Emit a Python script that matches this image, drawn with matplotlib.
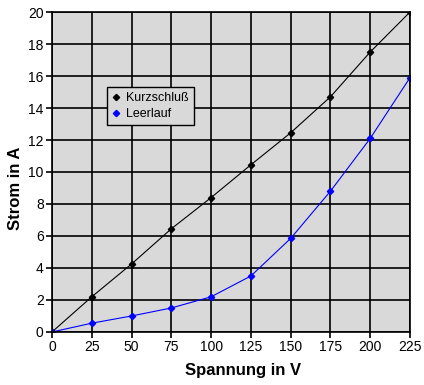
import matplotlib
matplotlib.use("Agg")
import matplotlib.pyplot as plt

# data
spannung = [0, 25, 50, 75, 100, 125, 150, 175, 200, 225]
kurzschluss = [0, 2.2, 4.25, 6.45, 8.4, 10.45, 12.45, 14.7, 17.5, 20.0]
leerlauf = [0, 0.55, 1.0, 1.5, 2.2, 3.5, 5.85, 8.8, 12.1, 15.9]

plt.rcParams['font.family'] = ['Liberation Sans', 'DejaVu Sans']

fig = plt.figure(figsize=(4.24, 3.85), dpi=100)
ax = fig.add_axes([0.1226, 0.1377, 0.8444, 0.8311])
ax.set_facecolor('#d9d9d9')

ax.plot(spannung, kurzschluss, '-D', color='black', lw=0.8, ms=3.2, label='Kurzschluß')
ax.plot(spannung, leerlauf, '-D', color='#0000ff', lw=0.8, ms=3.2, label='Leerlauf')

ax.set_xlim(0, 225)
ax.set_ylim(0, 20)
ax.set_xticks(range(0, 226, 25))
ax.set_yticks(range(0, 21, 2))
ax.grid(True, color='black', lw=1.2)
ax.set_axisbelow(True)
for s in ax.spines.values():
    s.set_color('black')
    s.set_linewidth(1.2)
ax.tick_params(direction='out', length=4, width=1.2, labelsize=10, pad=2)

ax.set_xlabel('Spannung in V', fontsize=12, fontweight='bold')
ax.set_ylabel('Strom in A', fontsize=12, fontweight='bold')
ax.xaxis.set_label_coords(0.534, -0.097)
ax.yaxis.set_label_coords(-0.081, 0.45)

leg = ax.legend(loc='upper left', bbox_to_anchor=(0.155, 0.765), fontsize=9,
                frameon=True, fancybox=False, framealpha=1, edgecolor='black',
                facecolor='#d9d9d9', handlelength=0.6, handletextpad=0.5,
                borderpad=0.4, labelspacing=0.3, borderaxespad=0)
leg.get_frame().set_linewidth(1.0)
for h in leg.legend_handles:
    h.set_linestyle('none')

fig.savefig('out.png', dpi=100)
